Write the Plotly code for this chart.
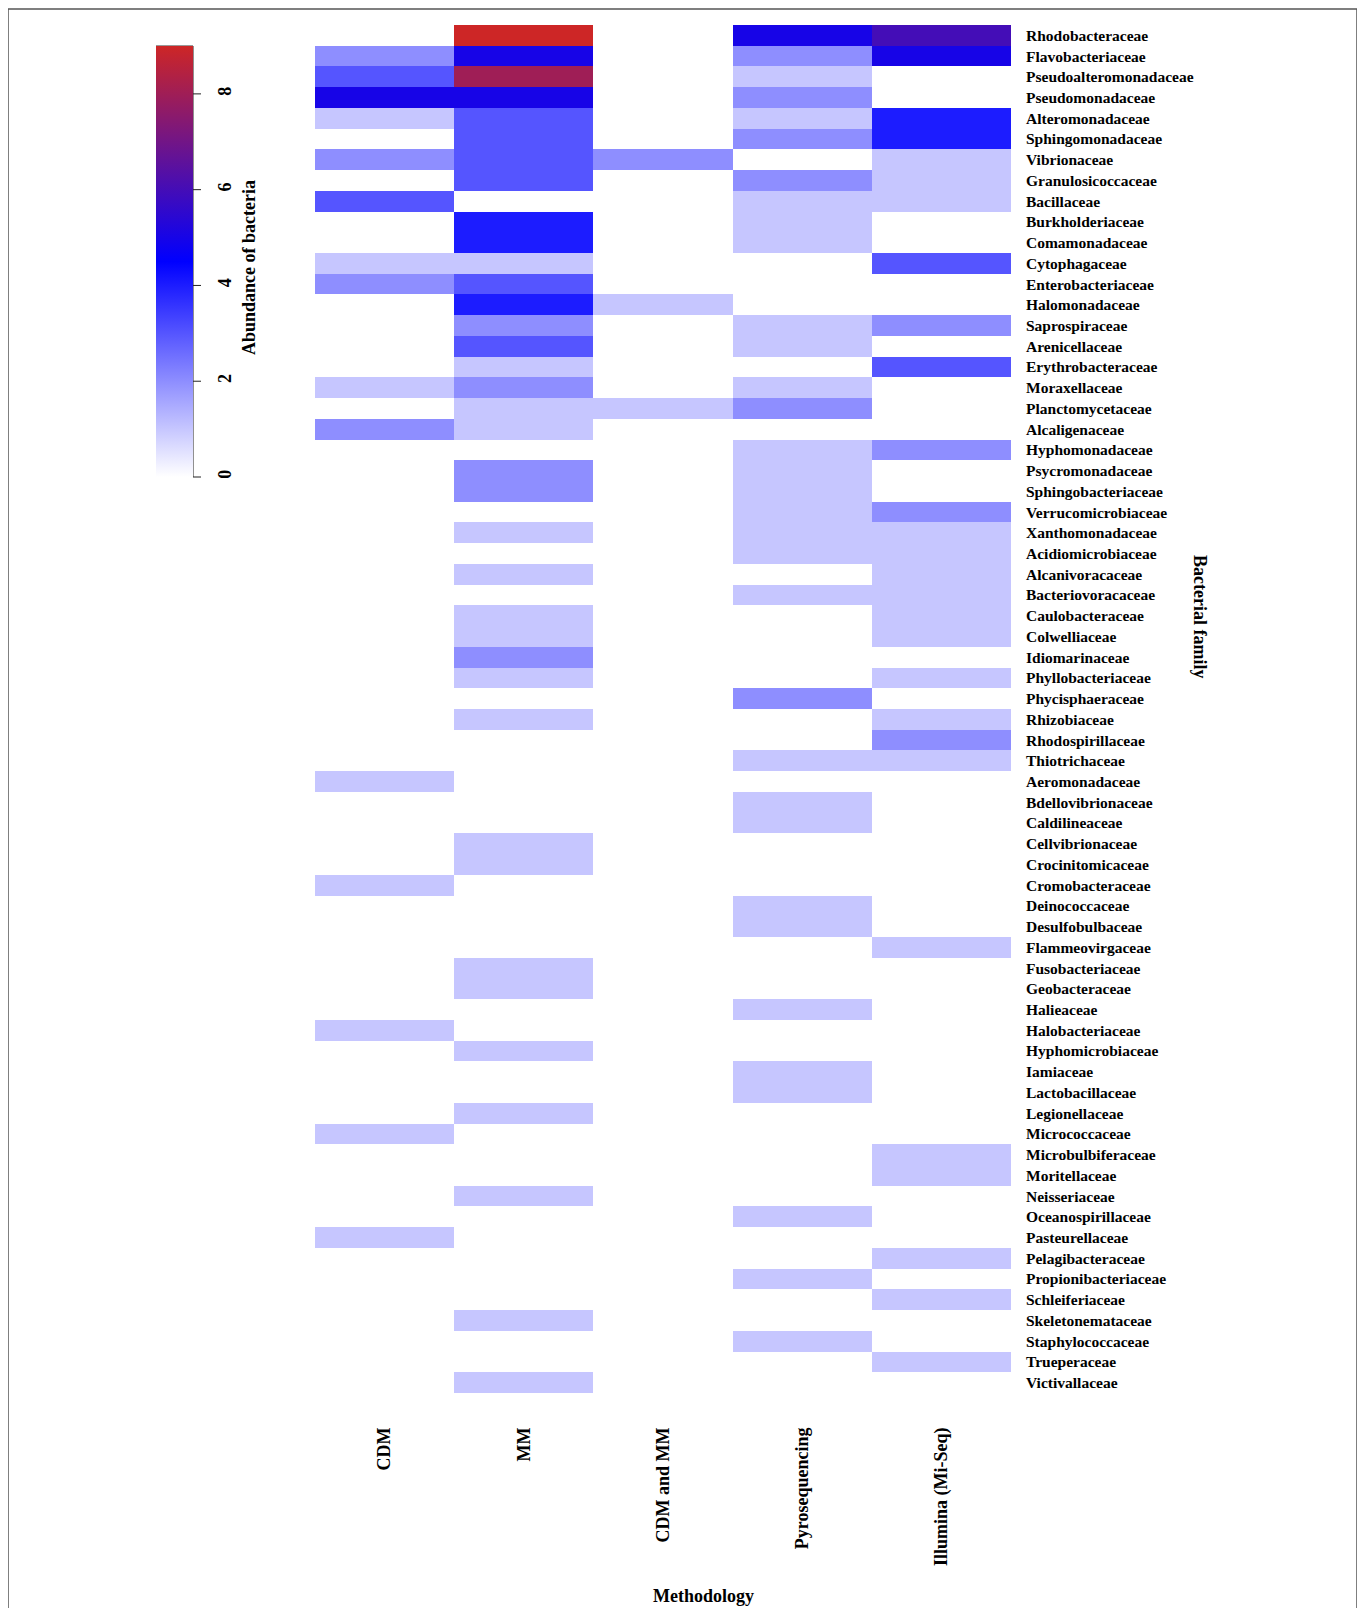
import plotly.graph_objects as go

methods = ["CDM", "MM", "CDM and MM", "Pyrosequencing", "Illumina (Mi-Seq)"]

families = [
    "Rhodobacteraceae", "Flavobacteriaceae", "Pseudoalteromonadaceae", "Pseudomonadaceae",
    "Alteromonadaceae", "Sphingomonadaceae", "Vibrionaceae", "Granulosicoccaceae",
    "Bacillaceae", "Burkholderiaceae", "Comamonadaceae", "Cytophagaceae",
    "Enterobacteriaceae", "Halomonadaceae", "Saprospiraceae", "Arenicellaceae",
    "Erythrobacteraceae", "Moraxellaceae", "Planctomycetaceae", "Alcaligenaceae",
    "Hyphomonadaceae", "Psycromonadaceae", "Sphingobacteriaceae", "Verrucomicrobiaceae",
    "Xanthomonadaceae", "Acidiomicrobiaceae", "Alcanivoracaceae", "Bacteriovoracaceae",
    "Caulobacteraceae", "Colwelliaceae", "Idiomarinaceae", "Phyllobacteriaceae",
    "Phycisphaeraceae", "Rhizobiaceae", "Rhodospirillaceae", "Thiotrichaceae",
    "Aeromonadaceae", "Bdellovibrionaceae", "Caldilineaceae", "Cellvibrionaceae",
    "Crocinitomicaceae", "Cromobacteraceae", "Deinococcaceae", "Desulfobulbaceae",
    "Flammeovirgaceae", "Fusobacteriaceae", "Geobacteraceae", "Halieaceae",
    "Halobacteriaceae", "Hyphomicrobiaceae", "Iamiaceae", "Lactobacillaceae",
    "Legionellaceae", "Micrococcaceae", "Microbulbiferaceae", "Moritellaceae",
    "Neisseriaceae", "Oceanospirillaceae", "Pasteurellaceae", "Pelagibacteraceae",
    "Propionibacteriaceae", "Schleiferiaceae", "Skeletonemataceae", "Staphylococcaceae",
    "Trueperaceae", "Victivallaceae",
]

cdm = [0, 2, 3, 5, 1, 0, 2, 0, 3, 0, 0, 1, 2, 0, 0, 0, 0, 1, 0, 2,
       0, 0, 0, 0, 0, 0, 0, 0, 0, 0, 0, 0, 0, 0, 0, 0, 1, 0, 0, 0,
       0, 1, 0, 0, 0, 0, 0, 0, 1, 0, 0, 0, 0, 1, 0, 0, 0, 0, 1, 0,
       0, 0, 0, 0, 0, 0]
mm = [9, 5, 8, 5, 3, 3, 3, 3, 0, 4, 4, 1, 3, 4, 2, 3, 1, 2, 1, 1,
      0, 2, 2, 0, 1, 0, 1, 0, 1, 1, 2, 1, 0, 1, 0, 0, 0, 0, 0, 1,
      1, 0, 0, 0, 0, 1, 1, 0, 0, 1, 0, 0, 1, 0, 0, 0, 1, 0, 0, 0,
      0, 0, 1, 0, 0, 1]
cdm_mm = [0, 0, 0, 0, 0, 0, 2, 0, 0, 0, 0, 0, 0, 1, 0, 0, 0, 0, 1, 0,
          0, 0, 0, 0, 0, 0, 0, 0, 0, 0, 0, 0, 0, 0, 0, 0, 0, 0, 0, 0,
          0, 0, 0, 0, 0, 0, 0, 0, 0, 0, 0, 0, 0, 0, 0, 0, 0, 0, 0, 0,
          0, 0, 0, 0, 0, 0]
pyro = [5, 2, 1, 2, 1, 2, 0, 2, 1, 1, 1, 0, 0, 0, 1, 1, 0, 1, 2, 0,
        1, 1, 1, 1, 1, 1, 0, 1, 0, 0, 0, 0, 2, 0, 0, 1, 0, 1, 1, 0,
        0, 0, 1, 1, 0, 0, 0, 1, 0, 0, 1, 1, 0, 0, 0, 0, 0, 1, 0, 0,
        1, 0, 0, 1, 0, 0]
illumina = [6, 5, 0, 0, 4, 4, 1, 1, 1, 0, 0, 3, 0, 0, 2, 0, 3, 0, 0, 0,
            2, 0, 0, 2, 1, 1, 1, 1, 1, 1, 0, 1, 0, 1, 2, 1, 0, 0, 0, 0,
            0, 0, 0, 0, 1, 0, 0, 0, 0, 0, 0, 0, 0, 0, 1, 1, 0, 0, 0, 1,
            0, 1, 0, 0, 1, 0]

colorbar_ticks = [0, 2, 4, 6, 8]
ZMIN, ZMAX = 0, 9

columns = [cdm, mm, cdm_mm, pyro, illumina]
z = [[col[i] for col in columns] for i in range(len(families))]

# page offset (browser body margin)
OFF = 8
W, H = 1365 - OFF, 1608 - OFF
# plot area in page pixels
PL, PR, PT, PB = 315, 1011, 25, 1393
ML, MT = PL - OFF, PT - OFF
MR, MB = W - (PR - OFF), H - (PB - OFF)
PW = PR - PL
PH = PB - PT

# colour bar box in page pixels
CB_L, CB_R, CB_T, CB_B = 156, 193, 46, 477


def px(xp):
    return (xp - PL) / PW


def py(yp):
    return (PB - yp) / PH


FONT = "Liberation Serif"

fig = go.Figure(
    go.Heatmap(
        x=methods,
        y=families,
        z=z,
        zmin=ZMIN,
        zmax=ZMAX,
        colorscale=[[0, "#FFFFFF"], [0.5, "#0000FF"], [1, "#CD2626"]],
        colorbar=dict(
            xref="paper", x=px(CB_L), xanchor="left",
            yref="paper", y=py(CB_B), yanchor="bottom",
            thickness=CB_R - CB_L, thicknessmode="pixels",
            len=CB_B - CB_T, lenmode="pixels",
            xpad=0, ypad=0,
            outlinewidth=0,
            tickvals=colorbar_ticks,
            ticktext=[str(v) for v in colorbar_ticks],
            ticks="outside", ticklen=17, tickwidth=1, tickcolor="rgba(0,0,0,0)",
            tickangle=-90,
            tickfont=dict(family=FONT, size=18, color="black", weight="bold"),
        ),
        hoverongaps=False,
    )
)

shapes = [
    dict(type="line", xref="paper", yref="paper", x0=px(CB_R), x1=px(CB_R),
         y0=py(CB_T), y1=py(CB_B), line=dict(color="#222222", width=1)),
    dict(type="line", xref="paper", yref="paper", x0=px(CB_L), x1=px(CB_R),
         y0=py(CB_T), y1=py(CB_T), line=dict(color="#333333", width=1)),
    dict(type="rect", xref="paper", yref="paper", x0=px(8), x1=px(1357),
         y0=py(9), y1=py(1640), line=dict(color="#555555", width=1.5)),
]
for v in colorbar_ticks:
    yp = CB_B - (v - ZMIN) / (ZMAX - ZMIN) * (CB_B - CB_T)
    shapes.append(dict(type="line", xref="paper", yref="paper",
                       x0=px(CB_R), x1=px(CB_R + 8), y0=py(yp), y1=py(yp),
                       line=dict(color="#222222", width=1)))

fig.update_layout(
    width=W, height=H,
    margin=dict(l=ML, r=MR, t=MT, b=MB, pad=0),
    paper_bgcolor="white", plot_bgcolor="white",
    xaxis=dict(
        type="category", tickangle=-90, showgrid=False, zeroline=False,
        showline=False, ticks="", ticklabelstandoff=30,
        tickfont=dict(family=FONT, size=18, color="black", weight="bold"),
    ),
    yaxis=dict(
        type="category", side="right", autorange="reversed", showgrid=False,
        zeroline=False, showline=False, ticks="", ticklabelstandoff=14,
        tickfont=dict(family=FONT, size=15.5, color="black", weight="bold"),
    ),
    annotations=[
        dict(text="Methodology", xref="paper", yref="paper", x=px(703), y=py(1596),
             showarrow=False, xanchor="center", yanchor="middle",
             font=dict(family=FONT, size=18, color="black", weight="bold")),
        dict(text="Bacterial family", xref="paper", yref="paper", x=px(1200), y=py(616),
             showarrow=False, textangle=90, xanchor="center", yanchor="middle",
             font=dict(family=FONT, size=18, color="black", weight="bold")),
        dict(text="Abundance of bacteria", xref="paper", yref="paper", x=px(249), y=py(268),
             showarrow=False, textangle=-90, xanchor="center", yanchor="middle",
             font=dict(family=FONT, size=18, color="black", weight="bold")),
    ],
    shapes=shapes,
)

fig.write_html("out.html")
